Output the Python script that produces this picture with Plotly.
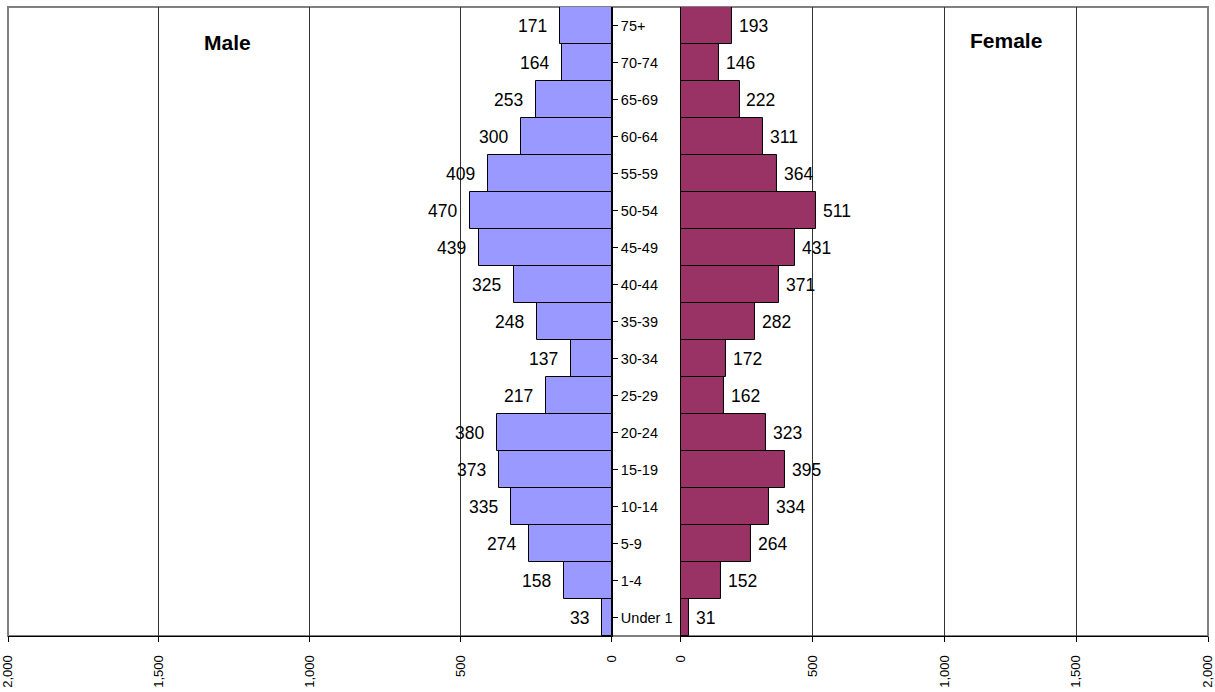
import plotly.graph_objects as go

ages = ["Under 1", "1-4", "5-9", "10-14", "15-19", "20-24", "25-29", "30-34",
        "35-39", "40-44", "45-49", "50-54", "55-59", "60-64", "65-69", "70-74", "75+"]
male = [33, 158, 274, 335, 373, 380, 217, 137, 248, 325, 439, 470, 409, 300, 253, 164, 171]
female = [31, 152, 264, 334, 395, 323, 162, 172, 282, 371, 431, 511, 364, 311, 222, 146, 193]
x_ticks = [0, 500, 1000, 1500, 2000]

FONT = "Liberation Sans, Arial, sans-serif"

fig = go.Figure()
fig.add_trace(go.Bar(x=male, y=ages, orientation="h", xaxis="x", yaxis="y",
                     marker=dict(color="#9999FF", line=dict(color="#000000", width=1)),
                     showlegend=False, hoverinfo="x+y"))
fig.add_trace(go.Bar(x=female, y=ages, orientation="h", xaxis="x2", yaxis="y2",
                     marker=dict(color="#993366", line=dict(color="#000000", width=1)),
                     showlegend=False, hoverinfo="x+y"))

annotations = []
for a, m, f in zip(ages, male, female):
    annotations.append(dict(x=m, y=a, xref="x", yref="y", text=str(m), showarrow=False,
                            xanchor="right", xshift=-11, font=dict(size=17.5, color="black", family=FONT)))
    annotations.append(dict(x=f, y=a, xref="x2", yref="y2", text=str(f), showarrow=False,
                            xanchor="left", xshift=5, font=dict(size=17.5, color="black", family=FONT)))
annotations.append(dict(x=0.183, y=0.944, xref="paper", yref="paper", text="<b>Male</b>",
                        xanchor="center", yanchor="middle",
                        showarrow=False, font=dict(size=21, color="black", family=FONT)))
annotations.append(dict(x=0.832, y=0.9475, xref="paper", yref="paper", text="<b>Female</b>",
                        xanchor="center", yanchor="middle",
                        showarrow=False, font=dict(size=21, color="black", family=FONT)))

xcommon = dict(range=[0, 2000], tickvals=x_ticks, tickformat=",", tickangle=-90,
               showgrid=True, gridcolor="#333333", gridwidth=1, zeroline=False,
               showline=True, linecolor="black", linewidth=1,
               ticks="outside", ticklen=5, tickcolor="black", automargin=False,
               ticklabelstandoff=8, ticklabeloverflow="allow",
               tickfont=dict(size=13, color="black", family=FONT), fixedrange=True)

fig.update_layout(
    width=1215, height=692,
    margin=dict(l=8, r=7, t=7, b=56),
    paper_bgcolor="white", plot_bgcolor="white",
    bargap=0,
    xaxis=dict(xcommon, domain=[0, 0.5033], autorange=False, range=[2000, 0], anchor="y"),
    xaxis2=dict(xcommon, domain=[0.5608, 1], anchor="y2"),
    yaxis=dict(anchor="x", side="right", showline=True, linecolor="black", linewidth=1,
               ticks="outside", ticklen=5, tickcolor="black", showgrid=False, automargin=False,
               tickfont=dict(size=14.5, color="black", family=FONT), categoryorder="array",
               categoryarray=ages, fixedrange=True),
    yaxis2=dict(anchor="x2", matches="y", showline=True, linecolor="black", linewidth=1,
                showticklabels=False, ticks="", showgrid=False, automargin=False, fixedrange=True),
    annotations=annotations,
    shapes=[dict(type="rect", xref="paper", yref="paper", x0=0, y0=0, x1=1, y1=1,
                 line=dict(color="#808080", width=2), layer="below")],
    font=dict(family=FONT),
)

fig.write_html("out.html", config={"displayModeBar": False},
               post_script="document.body.style.margin='0';")
